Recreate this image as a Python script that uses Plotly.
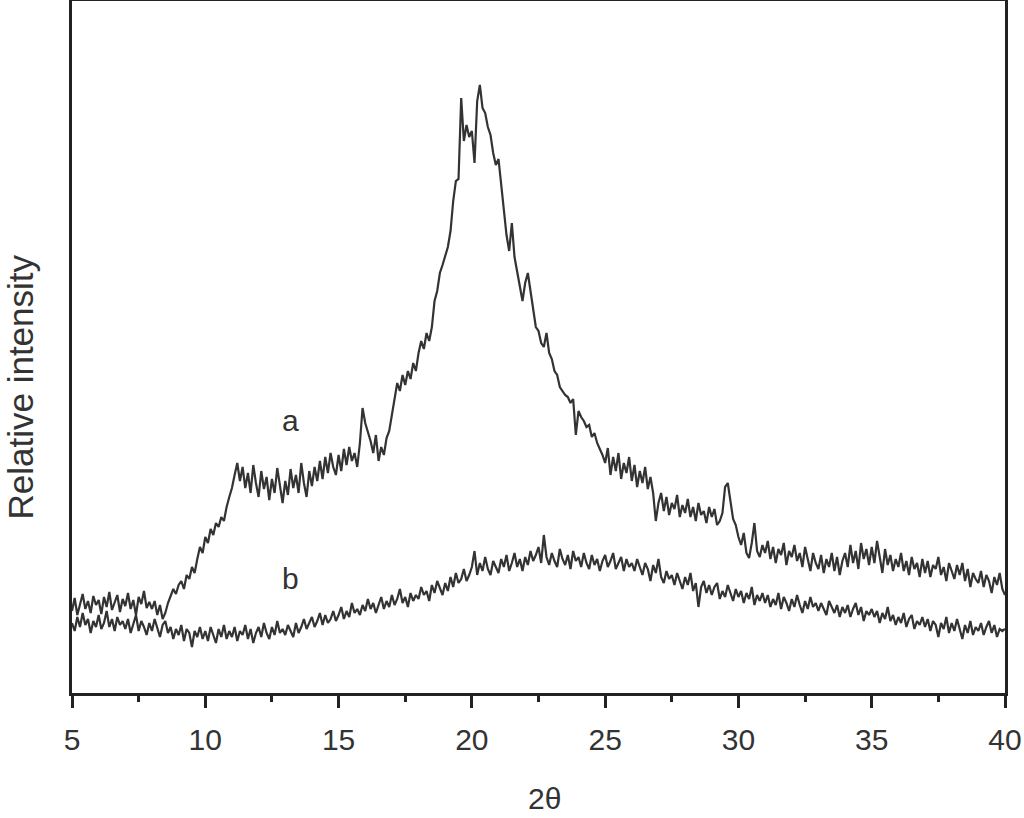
import plotly.graph_objects as go

# Scan grid (degrees 2-theta)
two_theta_start = 5.0
two_theta_step = 0.1
n_points = 351

# Curve a: relative intensity (arbitrary units)
intensity_a = [
    82, 95, 78, 90, 99, 84, 92, 80, 97, 88,
    93, 79, 96, 86, 101, 83, 90, 98, 81, 94,
    87, 100, 84, 93, 78, 96, 89, 102, 85, 91,
    84, 92, 78, 88, 74, 80, 90, 98, 104, 99,
    108, 112, 104, 118, 114, 126, 120, 134, 146, 140,
    156, 150, 164, 158, 170, 166, 176, 172, 186, 196,
    205, 218, 230, 212, 226, 205, 220, 200, 228, 210,
    196, 222, 204, 216, 193, 214, 200, 225, 206, 190,
    212, 198, 224, 205, 218, 200, 230, 210, 196, 222,
    207, 226, 212, 232, 214, 236, 220, 240, 226, 218,
    238, 222, 244, 228, 246, 232, 240, 226, 250, 285,
    270, 262, 252, 240, 258, 232, 246, 238, 255, 262,
    278, 295, 310, 302, 318, 308, 322, 314, 330, 322,
    340, 352, 344, 360, 352, 366, 392, 402, 420, 428,
    438, 446, 462, 492, 512, 514, 595, 552, 568, 556,
    562, 530, 592, 608, 585, 580, 566, 558, 540, 528,
    534, 506, 484, 458, 442, 470, 436, 422, 404, 392,
    410, 420, 402, 386, 366, 362, 350, 346, 360, 340,
    334, 322, 318, 306, 302, 298, 296, 290, 294, 258,
    282, 276, 272, 266, 268, 256, 260, 250, 244, 238,
    230, 245, 218, 236, 222, 240, 214, 230, 220, 236,
    212, 228, 206, 222, 210, 226, 204, 216, 200, 172,
    190, 200, 182, 196, 178, 190, 184, 198, 176, 188,
    180, 194, 176, 186, 172, 190, 178, 182, 170, 186,
    176, 184, 168, 172, 180, 206, 210, 190, 174, 168,
    156, 148, 160, 140, 135, 150, 170, 142, 136, 148,
    140, 152, 134, 146, 130, 144, 138, 150, 128, 142,
    136, 148, 132, 140, 126, 146, 134, 122, 140, 130,
    124, 138, 120, 134, 126, 140, 122, 136, 118, 132,
    140, 126, 148, 130, 142, 124, 150, 134, 144, 128,
    146, 130, 152, 136, 120, 144, 128, 138, 122, 134,
    126, 140, 122, 132, 118, 136, 124, 130, 116, 134,
    120, 132, 116, 128, 124, 136, 118, 126, 112, 130,
    122, 114, 128, 118, 130, 112, 124, 106, 120, 114,
    110, 122, 106, 118, 112, 100, 116, 108, 120, 104,
    98,
]

# Curve b: relative intensity (arbitrary units)
intensity_b = [
    70, 62, 76, 66, 80, 68, 74, 60, 72, 66,
    78, 64, 70, 82, 66, 74, 62, 76, 68, 72,
    64, 74, 60, 70, 78, 62, 72, 66, 58, 70,
    62, 74, 64, 56, 68, 72, 60, 66, 54, 64,
    58, 68, 52, 64, 60, 46, 62, 56, 66, 54,
    62, 52, 66, 58, 50, 64, 56, 68, 54, 62,
    56, 66, 52, 62, 58, 68, 54, 64, 50, 60,
    66, 56, 70, 60, 54, 66, 58, 72, 60, 64,
    58, 68, 62, 56, 70, 60, 66, 74, 64, 70,
    76, 66, 72, 80, 68, 78, 70, 74, 82, 72,
    78, 86, 74, 82, 76, 90, 80, 84, 78, 88,
    82, 94, 84, 90, 80, 88, 96, 84, 92, 86,
    98, 88, 94, 104, 90, 96, 86, 100, 92, 98,
    94, 106, 98, 102, 92, 108, 100, 112, 104, 98,
    110, 102, 116, 106, 120, 110, 114, 124, 112, 118,
    126, 142, 118, 130, 122, 136, 124, 118, 132, 126,
    120, 134, 126, 138, 122, 130, 140, 126, 134, 122,
    136, 128, 142, 132, 138, 146, 130, 158, 136, 128,
    140, 132, 126, 144, 134, 128, 138, 124, 142, 132,
    136, 126, 140, 130, 124, 138, 128, 134, 122, 132,
    138, 126, 132, 140, 124, 130, 136, 122, 134, 126,
    130, 122, 134, 126, 118, 130, 124, 112, 128, 120,
    134, 116, 110, 122, 114, 118, 108, 120, 112, 104,
    116, 108, 120, 102, 110, 86, 106, 112, 100, 108,
    98, 106, 110, 94, 102, 96, 108, 100, 92, 104,
    96, 102, 90, 100, 94, 106, 88, 98, 92, 100,
    90, 98, 86, 94, 88, 100, 84, 96, 90, 82,
    94, 86, 98, 88, 80, 92, 84, 96, 86, 90,
    82, 90, 84, 78, 92, 86, 80, 88, 76, 86,
    80, 88, 76, 84, 90, 78, 86, 72, 82, 78,
    84, 76, 82, 70, 80, 74, 86, 72, 78, 68,
    76, 70, 80, 66, 74, 78, 64, 72, 68, 76,
    66, 74, 62, 72, 68, 56, 70, 64, 76, 60,
    70, 62, 74, 64, 54, 68, 60, 72, 58, 66,
    62, 70, 58, 66, 72, 60, 68, 56, 64, 62,
    64,
]

x_tick_vals = [5, 10, 15, 20, 25, 30, 35, 40]
x_tick_text = ["5", "10", "15", "20", "25", "30", "35", "40"]

curve_labels = ["a", "b"]
label_x = [13.2, 13.2]
label_y = [273, 115]

x_title = "2θ"
y_title = "Relative intensity"

two_theta = [round(two_theta_start + two_theta_step * i, 1) for i in range(n_points)]
assert len(intensity_a) == n_points and len(intensity_b) == n_points

line_color = "#333333"
axis_color = "#222222"
text_color = "#333333"
font_family = "Liberation Sans, Arial, sans-serif"

fig = go.Figure()
fig.add_trace(go.Scatter(x=two_theta, y=intensity_a, mode="lines",
                         line=dict(color=line_color, width=2.2), name="a"))
fig.add_trace(go.Scatter(x=two_theta, y=intensity_b, mode="lines",
                         line=dict(color=line_color, width=2.2), name="b"))

for t, xx, yy in zip(curve_labels, label_x, label_y):
    fig.add_annotation(x=xx, y=yy, text=t, showarrow=False,
                       font=dict(size=30, color=text_color, family=font_family))

# Axis titles placed as paper-anchored text
fig.add_annotation(xref="paper", yref="paper", x=0.5064, y=-0.1518,
                   text=x_title, showarrow=False,
                   xanchor="center", yanchor="middle",
                   font=dict(size=30, color=text_color, family=font_family))
fig.add_annotation(xref="paper", yref="paper", x=-0.0557, y=0.4415,
                   text=y_title, showarrow=False, textangle=-90,
                   xanchor="center", yanchor="middle",
                   font=dict(size=35, color=text_color, family=font_family))

fig.update_layout(
    width=1024, height=818,
    margin=dict(l=72, r=19, t=1, b=125, autoexpand=False),
    plot_bgcolor="white", paper_bgcolor="white",
    showlegend=False,
    font=dict(family=font_family, color=text_color),
)
fig.update_xaxes(
    range=[5, 40], tickvals=x_tick_vals, ticktext=x_tick_text,
    showline=True, linecolor=axis_color, linewidth=2.5, mirror=True,
    ticks="outside", ticklen=12, tickwidth=2.5, tickcolor=axis_color,
    minor=dict(dtick=2.5, tick0=5, ticks="outside", ticklen=6, tickwidth=2.5, tickcolor=axis_color),
    showgrid=False, zeroline=False, automargin=False,
    tickfont=dict(size=30, color=text_color, family=font_family),
    ticklabelstandoff=6,
)
fig.update_yaxes(
    range=[0, 692], showticklabels=False, ticks="",
    showline=True, linecolor=axis_color, linewidth=2.5, mirror=True,
    showgrid=False, zeroline=False, automargin=False,
)

fig.write_html(
    "out.html",
    config={"displayModeBar": False},
    post_script="document.body.style.margin='0';document.body.style.padding='0';",
)
